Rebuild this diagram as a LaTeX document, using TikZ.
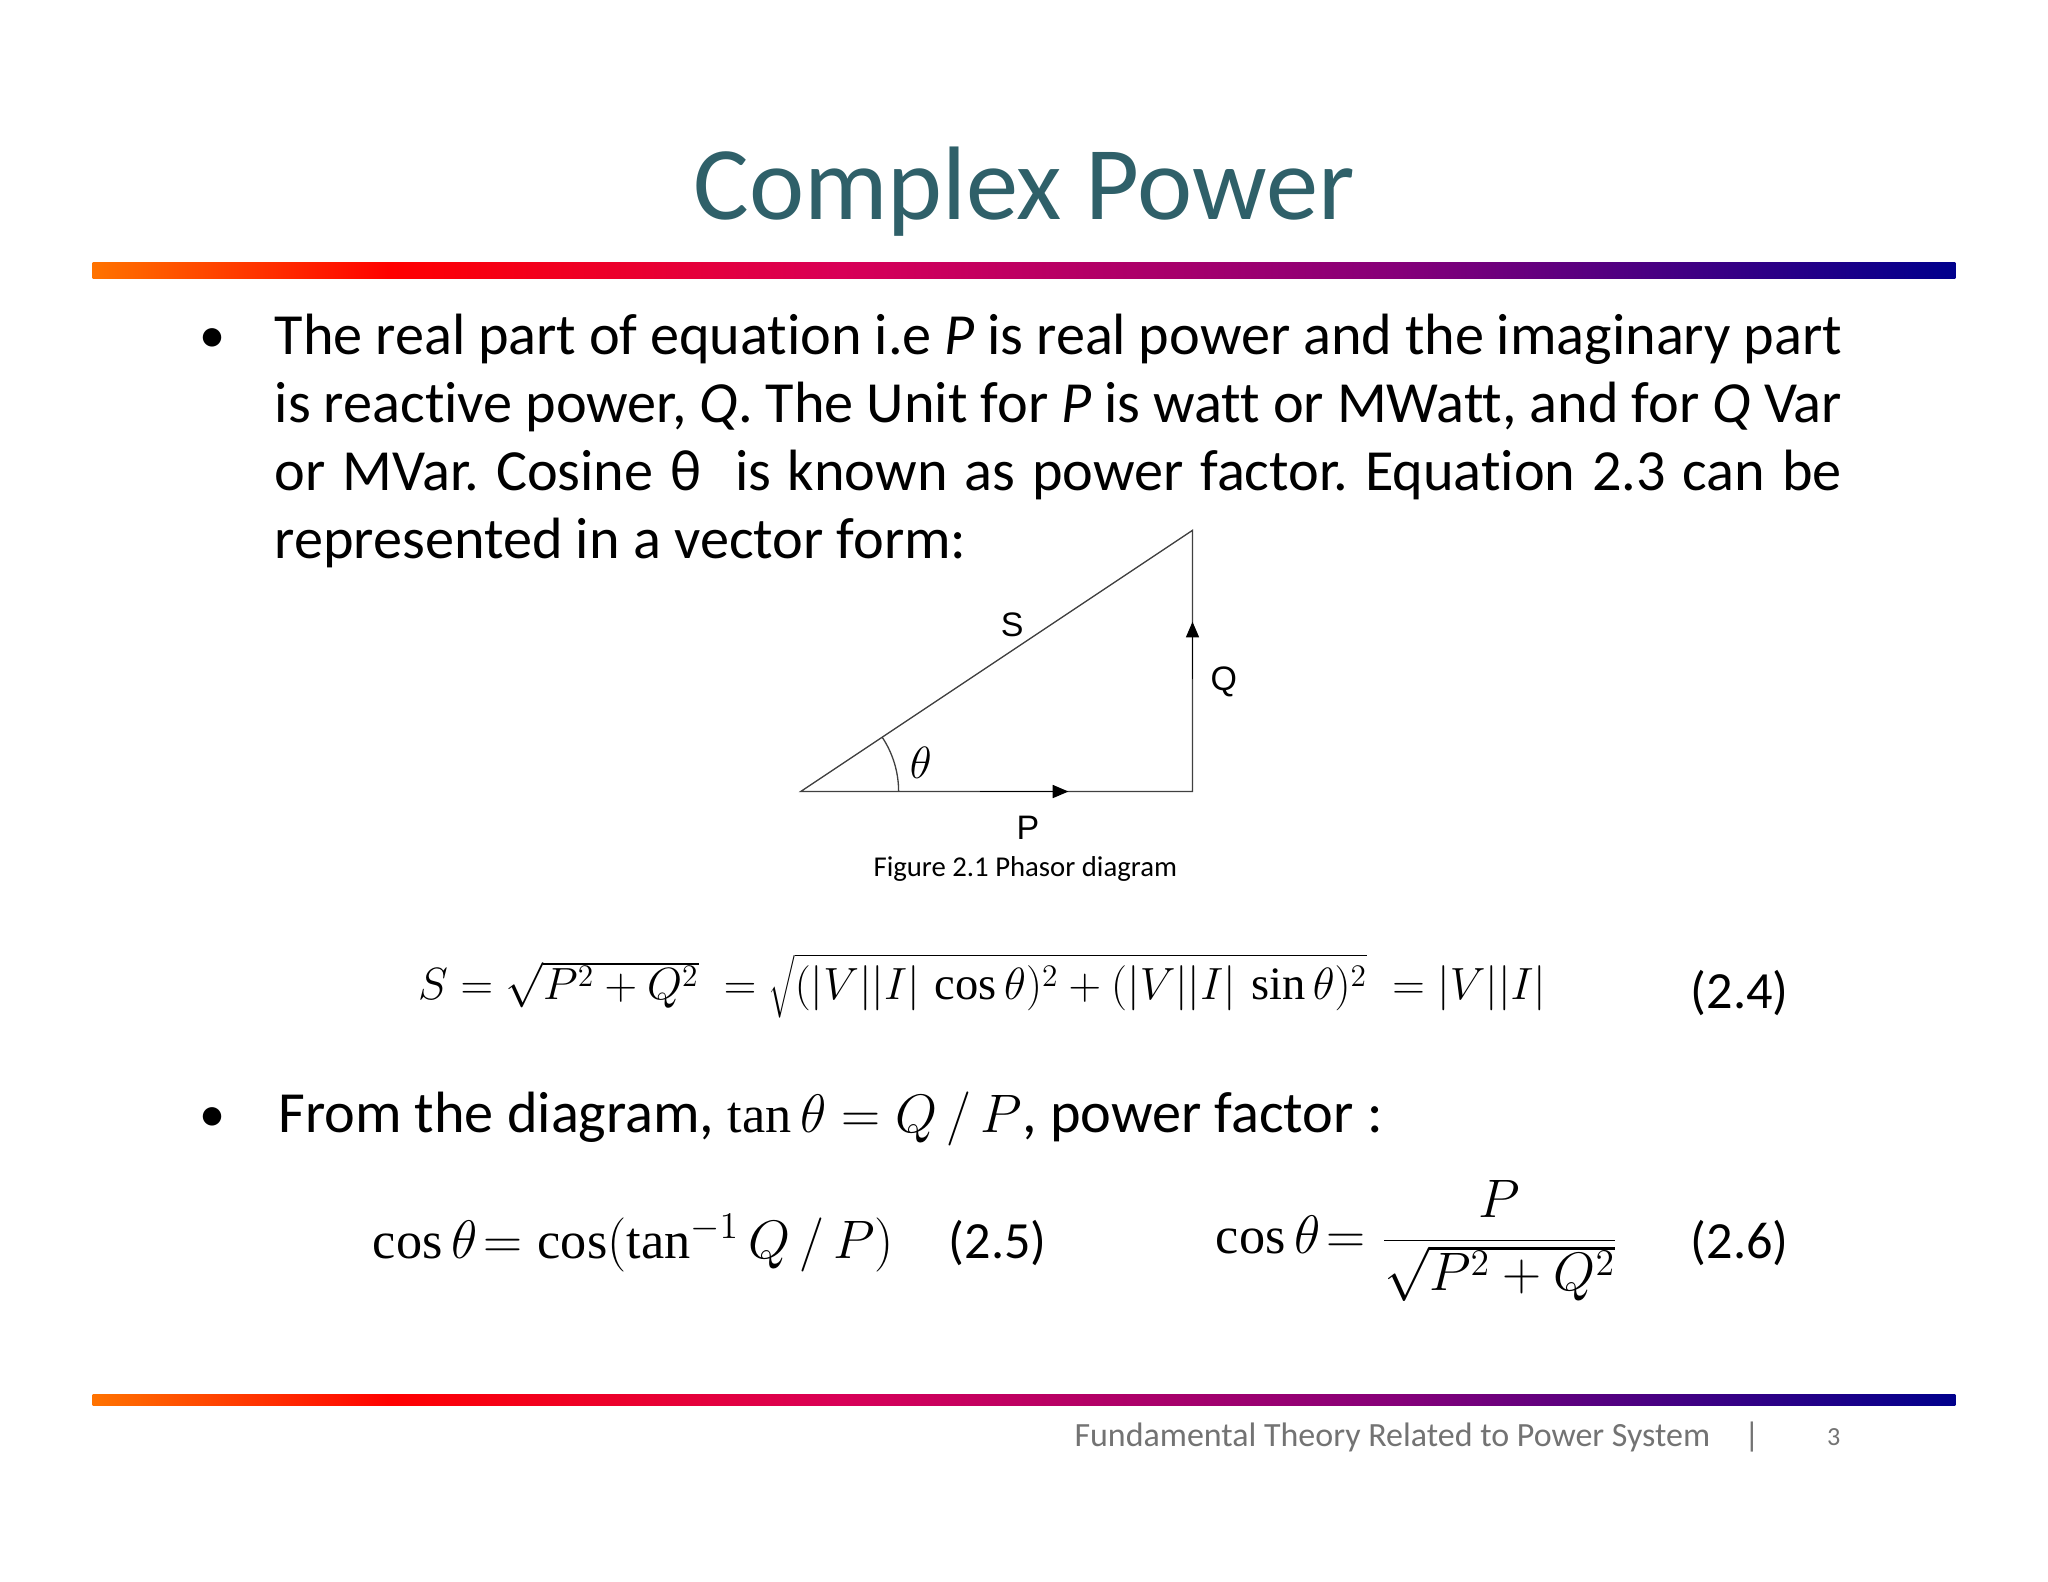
\documentclass[tikz,border=0pt]{standalone}
\usepackage{fontspec}
\setmainfont[Ligatures=NoCommon]{Carlito}
\setmathrm{Liberation Serif}
\newfontfamily\arialf{Liberation Sans}
\usetikzlibrary{arrows.meta}
\frenchspacing
\definecolor{titlec}{HTML}{2F6069}
\pgfdeclarehorizontalshading{rainbowbar}{100bp}{color(0bp)=(orange!90!red);color(25bp)=(orange!90!red);color(33bp)=(red);color(45bp)=(red!60!magenta!85!black);color(60bp)=(purple!70!blue);color(75bp)=(blue!55!black);color(100bp)=(blue!55!black)}
\tikzset{
  bar/.style={shading=rainbowbar, draw=none},
  body/.style={anchor=north west, font=\fontsize{22.3}{26}\selectfont, inner sep=0pt},
  lbl/.style={font=\arialf\fontsize{13}{15}\selectfont},
  eq/.style={font=\fontsize{20}{24}\selectfont},
  num/.style={font=\fontsize{20}{24}\selectfont},
  edge/.style={draw=black!75, line width=0.5pt},
}
\begin{document}
\begin{tikzpicture}[x=0.5pt,y=-0.5pt]
\useasboundingbox[fill=white] (0,0) rectangle (1568,1211);
\node[text=titlec, font=\fontsize{40}{48}\selectfont] (title) at (784,147) {Complex Power};
\shade[bar] (71,201) rectangle (1497,213);
\shade[bar] (71,1068) rectangle (1497,1076);
\node[font=\fontsize{20}{24}\selectfont] (b1) at (163,261) {•};
\node[body, text width=600pt, align=justify] (para) at (210,240) {The real part of equation i.e \textit{P} is real power and the imaginary part is reactive power, \textit{Q}. The Unit for \textit{P} is watt or MWatt, and for \textit{Q} Var or MVar. Cosine θ\ \ is known as power factor. Equation 2.3 can be represented in a vector form:\hfill\null};
% triangle
\coordinate (A) at (613,606);
\coordinate (B) at (913,606);
\coordinate (C) at (913,406);
\draw[edge] (A) -- (B) -- (C) -- cycle;
\coordinate (pa) at (818,606);
\coordinate (qa) at (913,476);
\draw[-{Triangle[length=6pt,width=5pt]}, line width=0.5pt] (750,606) -- (pa);
\draw[-{Triangle[length=6pt,width=5pt]}, line width=0.5pt] (913,520) -- (qa);
\draw[edge] (688,606) arc[start angle=0, end angle=-33.7, radius=75];
\node[lbl] (S) at (775,478) {S};
\node[lbl] (Q) at (937,522) {Q};
\node[lbl] (P) at (787,634) {P};
\node[font=\fontsize{17}{20}\selectfont] (th) at (705,584) {$\theta$};
\node[font=\fontsize{11}{13}\selectfont] (cap) at (785,665) {Figure 2.1 Phasor diagram};
% eq 2.4
\node[font=\fontsize{17.8}{22}\selectfont] (e4) at (752,755) {$S=\sqrt{P^2+Q^2}\;=\sqrt{(|V||I|\,\cos\theta)^2+(|V||I|\,\sin\theta)^2}\;=|V||I|$};
\node[num] (n4) at (1332,760) {(2.4)};
\node[font=\fontsize{20}{24}\selectfont] (b2) at (163,857) {•};
\node[anchor=west, font=\fontsize{22.3}{26}\selectfont] (from) at (206,857) {From the diagram, {\fontsize{20}{24}\selectfont$\tan\theta=Q\,/\,P$}, power factor :};
\node[eq] (e5) at (485,952) {$\cos\theta\!=\cos(\tan^{-1}Q\,/\,P)$};
\node[num] (n5) at (764,952) {(2.5)};
\node[eq] (e6) at (1085,950) {$\displaystyle\cos\theta\!=\frac{P}{\sqrt{P^2+Q^2}}$};
\node[num] (n6) at (1332,952) {(2.6)};
\node[text=black!55, font=\fontsize{13}{15}\selectfont] (foot) at (1085,1100) {Fundamental Theory Related to Power System\quad|};
\node[text=black!55, font=\fontsize{10}{12}\selectfont] (pg) at (1404,1100) {3};
\end{tikzpicture}
\end{document}
